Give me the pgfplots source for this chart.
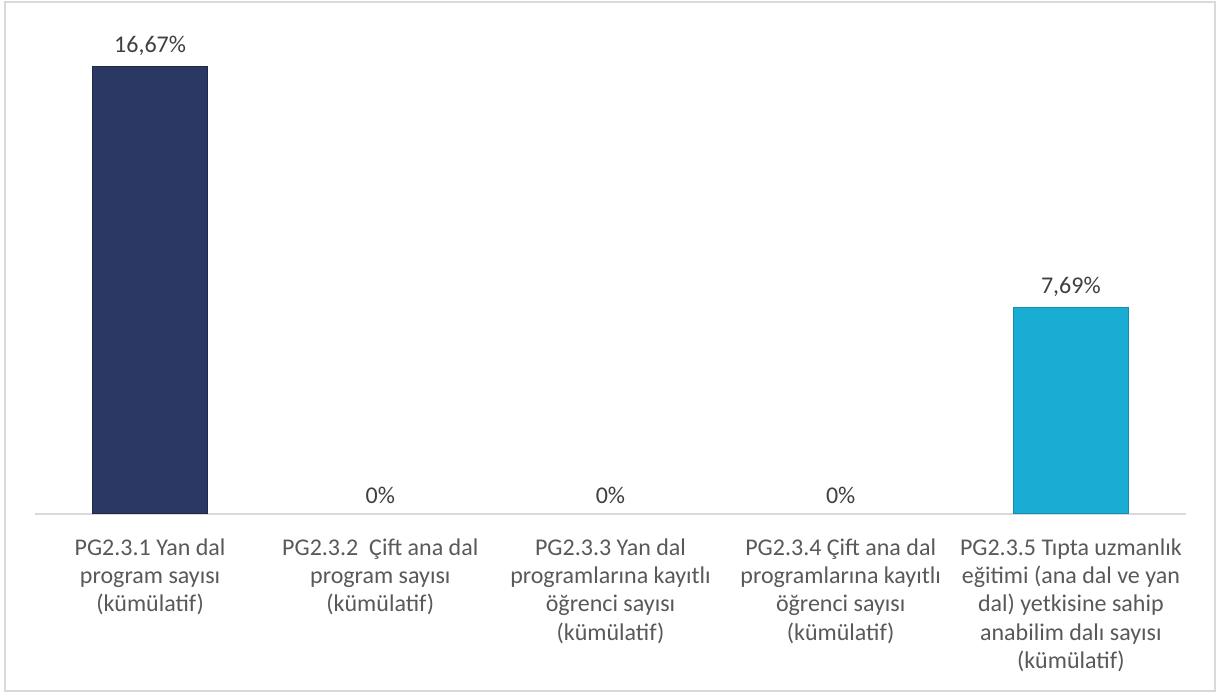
\documentclass[border=0pt]{standalone}
\usepackage{pgfplots}
\pgfplotsset{compat=1.18}
\usepackage{fontspec}
\setmainfont{Carlito}
\definecolor{navy}{RGB}{43,56,99}
\definecolor{navyd}{RGB}{30,40,75}
\definecolor{aqua}{RGB}{26,173,211}
\definecolor{aquad}{RGB}{18,140,175}
\definecolor{gridgray}{RGB}{217,217,217}
\definecolor{txt}{RGB}{89,89,89}
\definecolor{lbl}{RGB}{64,64,64}
\begin{document}
\begin{tikzpicture}[x=1pt,y=1pt]
\useasboundingbox (0,0) rectangle (1218,695);
\fill[white] (0,0) rectangle (1218,695);
\draw[gridgray, line width=2pt] (5,4) rectangle (1215,693);
\begin{axis}[
 at={(35pt,181pt)}, anchor=south west,
 scale only axis, width=1151pt, height=483.3pt,
 xmin=-0.5, xmax=4.5, ymin=0, ymax=18,
 axis y line=none, axis x line*=bottom,
 x axis line style={draw=gridgray, line width=2pt, -},
 xtick={0,1,2,3,4},
 major tick length=0pt,
 xticklabels={{PG2.3.1 Yan dal\\program sayısı\\(kümülatif)},
   {PG2.3.2\ \ Çift ana dal\\program sayısı\\(kümülatif)},
   {PG2.3.3 Yan dal\\programlarına kayıtlı\\öğrenci sayısı\\(kümülatif)},
   {PG2.3.4 Çift ana dal\\programlarına kayıtlı\\öğrenci sayısı\\(kümülatif)},
   {PG2.3.5 Tıpta uzmanlık\\eğitimi (ana dal ve yan\\dal) yetkisine sahip\\anabilim dalı sayısı\\(kümülatif)}},
 xticklabel style={align=center, font=\fontsize{24}{28.3}\selectfont, text=txt, anchor=north, yshift=-21pt},
 ybar, bar width=115pt, bar shift=0pt,
 /pgf/number format/assume math mode=true,
 nodes near coords={\pgfmathprintnumber[fixed,precision=2,use comma,assume math mode=true]{\pgfplotspointmeta}\%},
 nodes near coords style={font=\fontsize{24}{28.3}\selectfont, text=lbl, anchor=south, inner sep=0pt, yshift=10pt},
 clip=false,
]
\addplot[fill=navy, draw=navyd, line width=1pt] coordinates {(0,16.67)};
\addplot[draw=none, fill=none] coordinates {(1,0) (2,0) (3,0)};
\addplot[fill=aqua, draw=aquad, line width=1pt] coordinates {(4,7.69)};
\end{axis}
\end{tikzpicture}
\end{document}
